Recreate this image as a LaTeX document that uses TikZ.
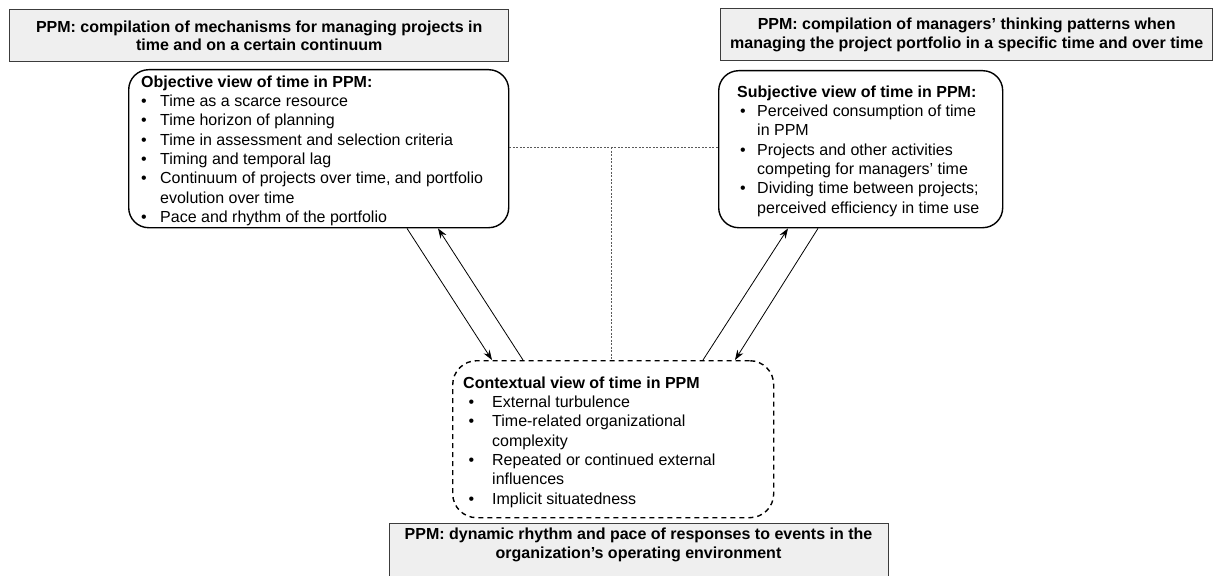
\documentclass[tikz,border=0pt]{standalone}
\usepackage{fontspec}
\setmainfont{Liberation Sans}
\usetikzlibrary{arrows.meta}
\definecolor{gfill}{RGB}{239,239,239}
\definecolor{gline}{RGB}{60,60,60}
\definecolor{dotc}{RGB}{90,90,90}
\newlength\bulA
\newlength\txtA
\newcommand{\B}{\makebox[\txtA][l]{\hspace{\bulA}\textbullet}}
\newcommand{\C}{\makebox[\txtA][l]{}}
\tikzset{
  titlebox/.style={draw=gline, line width=1.4pt, fill=gfill, anchor=north west, inner sep=0pt},
  titletext/.style={align=center, font=\fontsize{16}{18.5}\selectfont\bfseries, inner sep=0pt},
  viewbox/.style={draw=black, line width=1.4pt, rounded corners=20pt, anchor=north west, inner sep=0pt},
  ctxbox/.style={draw=black, line width=1.4pt, rounded corners=24pt, dash pattern=on 5pt off 4pt, anchor=north west, inner sep=0pt},
  listtext/.style={anchor=north west, inner sep=0pt, font=\fontsize{16}{19.3}\selectfont},
  link/.style={draw=dotc, line width=0.7pt, dash pattern=on 2pt off 1.5pt},
  arr/.style={draw=black, line width=0.8pt, -{Stealth[length=10pt,width=7pt]}}
}
\begin{document}
\begin{tikzpicture}[x=1pt,y=-1pt]
\useasboundingbox (0,0) rectangle (1214,575);

% gray title boxes
\node[titlebox, minimum width=499pt, minimum height=52pt] (tl) at (9,9) {};
\node[titletext] (tltxt) at (tl.center) {PPM: compilation of mechanisms for managing projects in\\time and on a certain continuum};

\node[titlebox, minimum width=492pt, minimum height=52pt] (tr) at (720,8) {};
\node[titletext] (trtxt) at (tr.center) {PPM: compilation of managers’ thinking patterns when\\managing the project portfolio in a specific time and over time};

\node[titlebox, minimum width=499pt, minimum height=60pt] (bt) at (389,523) {};
\node[titletext, anchor=north] (bttxt) at (638.5,528) {PPM: dynamic rhythm and pace of responses to events in the\\organization’s operating environment};

% view boxes
\node[viewbox, minimum width=380pt, minimum height=158pt] (obj) at (128,69) {};
\node[listtext] (objtxt) at (141,73.5) {\setlength\bulA{0pt}\setlength\txtA{19pt}%
\begin{tabular}{@{}l@{}l@{}}
\multicolumn{2}{@{}l@{}}{\bfseries Objective view of time in PPM:}\\
\B & Time as a scarce resource\\
\B & Time horizon of planning\\
\B & Time in assessment and selection criteria\\
\B & Timing and temporal lag\\
\B & Continuum of projects over time, and portfolio\\
\C & evolution over time\\
\B & Pace and rhythm of the portfolio
\end{tabular}};

\node[viewbox, minimum width=284pt, minimum height=157pt] (sub) at (718,70) {};
\node[listtext] (subtxt) at (737,83.5) {\setlength\bulA{3pt}\setlength\txtA{20pt}%
\begin{tabular}{@{}l@{}l@{}}
\multicolumn{2}{@{}l@{}}{\bfseries Subjective view of time in PPM:}\\
\B & Perceived consumption of time\\
\C & in PPM\\
\B & Projects and other activities\\
\C & competing for managers’ time\\
\B & Dividing time between projects;\\
\C & perceived efficiency in time use
\end{tabular}};

\node[ctxbox, minimum width=321pt, minimum height=157pt] (ctx) at (452,360) {};
\node[listtext] (ctxtxt) at (463,374.5) {\setlength\bulA{5.5pt}\setlength\txtA{29pt}%
\begin{tabular}{@{}l@{}l@{}}
\multicolumn{2}{@{}l@{}}{\bfseries Contextual view of time in PPM}\\
\B & External turbulence\\
\B & Time-related organizational\\
\C & complexity\\
\B & Repeated or continued external\\
\C & influences\\
\B & Implicit situatedness
\end{tabular}};

% dashed links
\coordinate (j) at (611,147);
\draw[link] (obj.east |- j) -- (sub.west |- j);
\draw[link] (j) -- (ctx.north -| j);

% arrows
\draw[arr] (obj.south -| 407,0) -- (ctx.north -| 492,0);
\draw[arr] (ctx.north -| 523,0) -- (obj.south -| 438,0);
\draw[arr] (ctx.north -| 703,0) -- (sub.south -| 788,0);
\draw[arr] (sub.south -| 818,0) -- (ctx.north -| 735,0);
\end{tikzpicture}
\end{document}
